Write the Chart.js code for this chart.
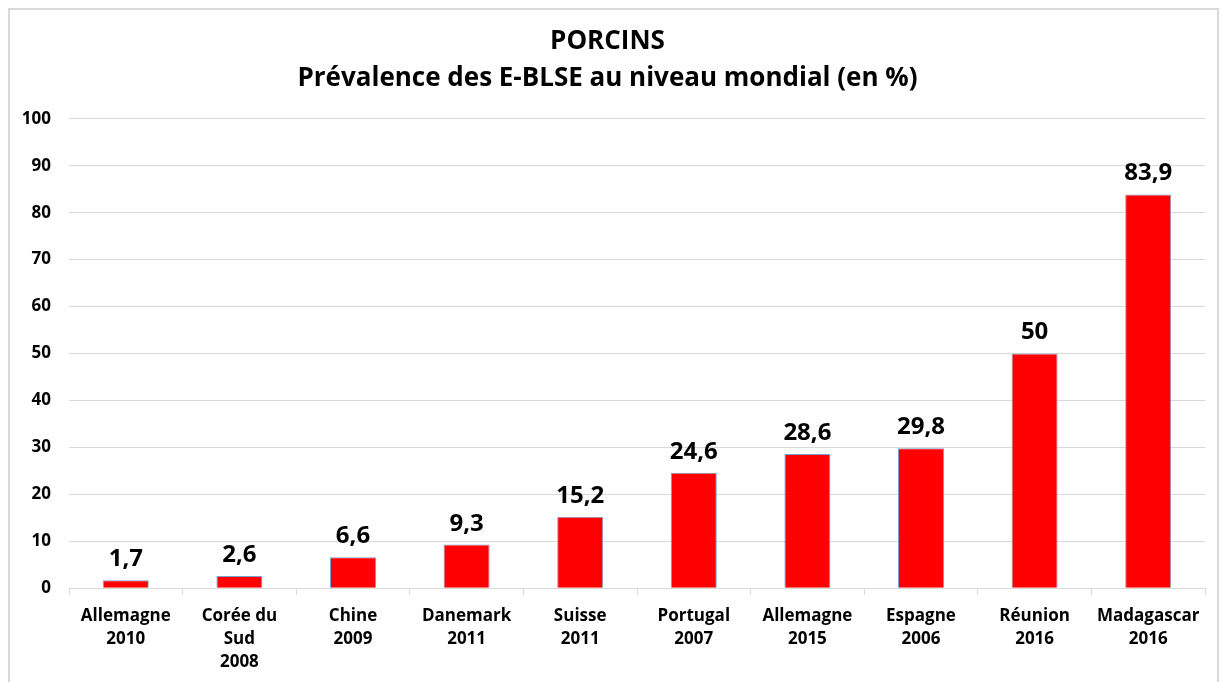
<!DOCTYPE html>
<html lang="fr">
<head>
<meta charset="utf-8">
<title>PORCINS - Prévalence des E-BLSE</title>
<script src="https://cdn.jsdelivr.net/npm/chart.js@4.4.1/dist/chart.umd.min.js"></script>
<style>
  html, body { margin: 0; padding: 0; background: #fff; }
  #frame {
    position: absolute; left: 8px; top: 8px;
    width: 1211px; height: 690px;
    border: 2px solid #d9d9d9; box-sizing: border-box;
  }
  #frame canvas { display: block; }
</style>
</head>
<body>
<div id="frame"><canvas id="bars"></canvas></div>
<script>
// Pays / année de l'étude
const countries = [
  ['Allemagne', '2010'],
  ['Corée du', 'Sud', '2008'],
  ['Chine', '2009'],
  ['Danemark', '2011'],
  ['Suisse', '2011'],
  ['Portugal', '2007'],
  ['Allemagne', '2015'],
  ['Espagne', '2006'],
  ['Réunion', '2016'],
  ['Madagascar', '2016']
];
// Prévalence (%)
const prevalence = [1.7, 2.6, 6.6, 9.3, 15.2, 24.6, 28.6, 29.8, 50, 83.9];
const yTicks = [0, 10, 20, 30, 40, 50, 60, 70, 80, 90, 100];

const FONT = "'Open Sans', 'Liberation Sans', sans-serif";
const fmt = v => String(v).replace('.', ',');

// valeurs au-dessus des barres
const valueLabels = {
  id: 'valueLabels',
  afterDatasetsDraw(chart) {
    const ctx = chart.ctx;
    const meta = chart.getDatasetMeta(0);
    ctx.save();
    ctx.font = `bold 24px ${FONT}`;
    ctx.fillStyle = '#000';
    ctx.textAlign = 'center';
    ctx.textBaseline = 'alphabetic';
    meta.data.forEach((bar, i) => {
      ctx.fillText(fmt(prevalence[i]), bar.x, bar.y - 14);
    });
    ctx.restore();
  }
};

new Chart(document.getElementById('bars'), {
  type: 'bar',
  data: {
    labels: countries,
    datasets: [{
      data: prevalence,
      backgroundColor: '#ff0000',
      borderColor: '#7f9fd0',
      borderWidth: 1,
      barPercentage: 0.405,
      categoryPercentage: 1
    }]
  },
  options: {
    responsive: true,
    maintainAspectRatio: false,
    animation: false,
    layout: { padding: { left: 0, right: 12, top: 0, bottom: 12 } },
    plugins: {
      legend: { display: false },
      tooltip: { enabled: false },
      title: {
        display: true,
        text: ['PORCINS', 'Prévalence des E-BLSE au niveau mondial (en %)'],
        color: '#000',
        font: { family: FONT, size: 26, weight: 'bold', lineHeight: 1.42 },
        padding: { top: 13, bottom: 22 }
      }
    },
    scales: {
      x: {
        border: { color: '#d9d9d9', width: 1 },
        grid: { drawOnChartArea: false, drawTicks: true, tickLength: 7, color: '#d9d9d9' },
        ticks: {
          color: '#000',
          padding: 10,
          maxRotation: 0,
          autoSkip: false,
          font: { family: FONT, size: 17, weight: 'bold', lineHeight: 1.35 }
        },
        afterFit: axis => { axis.paddingLeft = 0; axis.paddingRight = 0; }
      },
      y: {
        min: 0,
        max: 100,
        afterBuildTicks: axis => { axis.ticks = yTicks.map(v => ({ value: v })); },
        afterFit: axis => { axis.width = 59; },
        border: { display: false },
        grid: { color: '#d9d9d9', drawTicks: false },
        ticks: {
          color: '#000',
          padding: 18,
          font: { family: FONT, size: 17, weight: 'bold' }
        }
      }
    }
  },
  plugins: [valueLabels]
});
</script>
</body>
</html>
